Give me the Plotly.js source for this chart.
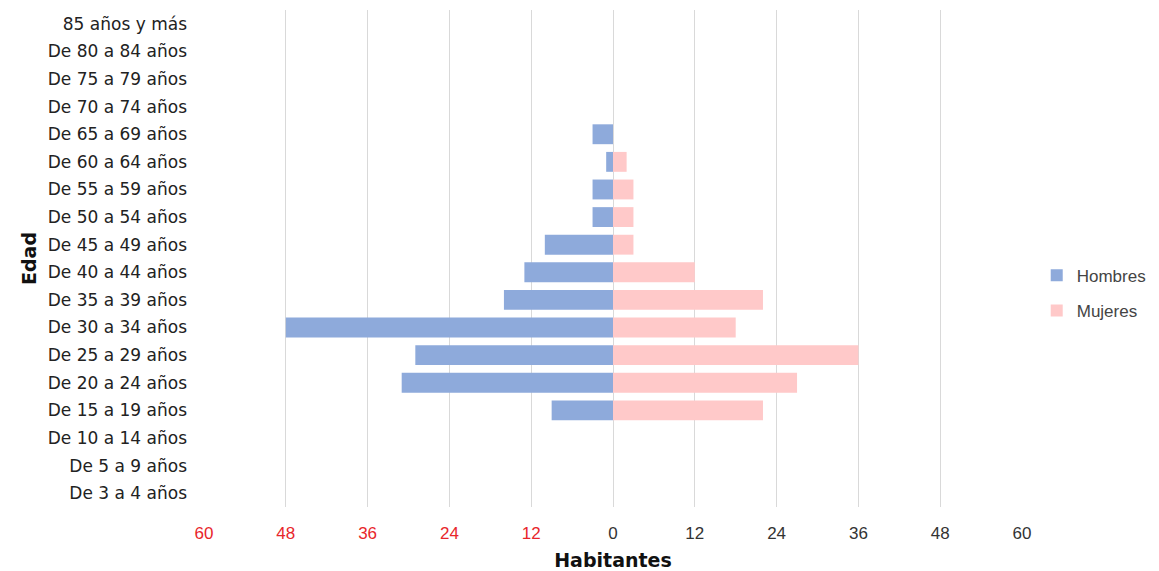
<!DOCTYPE html>
<html>
<head>
<meta charset="utf-8">
<script src="https://cdn.plot.ly/plotly-3.0.1.min.js"></script>
<style>html,body{margin:0;padding:0;background:#fff;}#chart{width:1159px;height:571px;}</style>
</head>
<body>
<div id="chart"></div>
<script>
const categories = ["De 3 a 4 años","De 5 a 9 años","De 10 a 14 años","De 15 a 19 años","De 20 a 24 años","De 25 a 29 años","De 30 a 34 años","De 35 a 39 años","De 40 a 44 años","De 45 a 49 años","De 50 a 54 años","De 55 a 59 años","De 60 a 64 años","De 65 a 69 años","De 70 a 74 años","De 75 a 79 años","De 80 a 84 años","85 años y más"];
const hombres = [0,0,0,9,31,29,48,16,13,10,3,3,1,3,0,0,0,0];
const mujeres = [0,0,0,22,27,36,18,22,12,3,3,3,2,0,0,0,0,0];
const tickVals = [-60,-48,-36,-24,-12,0,12,24,36,48,60];
const tickText = tickVals.map(v => v < 0 ? '<span style="color:#e8262b">' + Math.abs(v) + '</span>' : String(v));

const traces = [
  {type:'bar', orientation:'h', name:'Hombres', legendgroup:'h', y:categories, x:hombres.map(v=>-v),
   marker:{color:'#8eaadb'}, hoverinfo:'skip'},
  {type:'bar', orientation:'h', name:'Mujeres', legendgroup:'m', y:categories, x:mujeres,
   marker:{color:'#ffc9c9'}, hoverinfo:'skip'}
];
const layout = {
  width:1159, height:571,
  margin:{l:204, r:137, t:10, b:64, autoexpand:false},
  barmode:'relative', bargap:0.28,
  paper_bgcolor:'#fff', plot_bgcolor:'#fff',
  font:{family:'DejaVu Sans, Arial, sans-serif', color:'#222', size:16},
  xaxis:{range:[-60,60], tickvals:tickVals, ticktext:tickText, showgrid:true, gridcolor:'#d9d9d9',
    zeroline:false, showline:false, ticks:'', ticklabelstandoff:14,
    tickfont:{family:'Liberation Sans, Arial, sans-serif', size:17, color:'#333'},
    title:{text:'<b>Habitantes</b>', font:{size:19, color:'#111'}, standoff:13}},
  yaxis:{type:'category', categoryorder:'array', categoryarray:categories, showgrid:false, zeroline:false,
    ticks:'', ticklabelstandoff:16, tickfont:{size:17, color:'#222'},
    title:{text:'<b>Edad</b>', font:{size:19, color:'#111'}, standoff:6}},
  legend:{x:1.018, xanchor:'left', y:0.43, yanchor:'middle', traceorder:'grouped', tracegroupgap:10,
    font:{family:'Liberation Sans, Arial, sans-serif', size:17, color:'#444'}, itemwidth:30},
  showlegend:true
};
Plotly.newPlot('chart', traces, layout, {displayModeBar:false, staticPlot:true});
</script>
</body>
</html>
